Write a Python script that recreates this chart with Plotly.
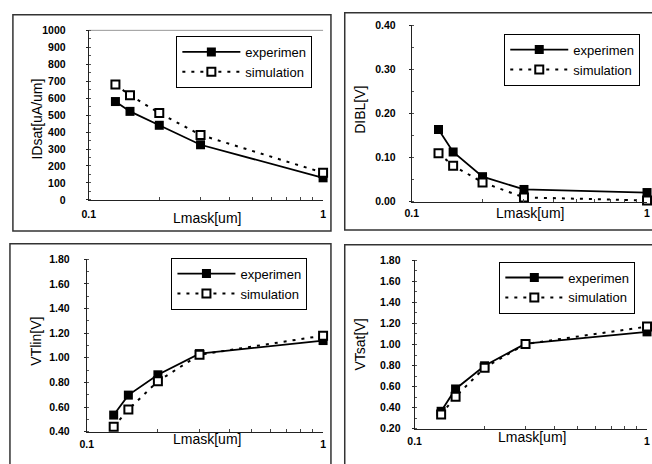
import plotly.graph_objects as go

W, H = 652, 464

lmask = [0.13, 0.15, 0.2, 0.3, 1.0]

idsat_exp = [580, 522, 440, 325, 130]
idsat_sim = [680, 617, 512, 383, 160]

dibl_exp = [0.164, 0.113, 0.057, 0.028, 0.021]
dibl_sim = [0.110, 0.082, 0.044, 0.010, 0.003]

vtlin_exp = [0.535, 0.697, 0.862, 1.034, 1.14]
vtlin_sim = [0.44, 0.58, 0.81, 1.025, 1.18]

vtsat_exp = [0.366, 0.578, 0.798, 1.008, 1.12]
vtsat_sim = [0.336, 0.505, 0.78, 1.005, 1.17]

y_titles = ["IDsat[uA/um]", "DIBL[V]", "VTlin[V]", "VTsat[V]"]
x_title = "Lmask[um]"
names = ["experimen", "simulation"]
x_tickvals = [0.1, 1]
x_ticktext = ["0.1", "1"]
x_minor = [0.2, 0.3, 0.4, 0.5, 0.6, 0.7, 0.8, 0.9]

FONT = "Liberation Sans, Arial, sans-serif"

def px(x):
    return x / W

def py(y):
    return 1 - y / H

panels = [
    dict(exp=idsat_exp, sim=idsat_sim, yr=[0, 1000], dt=100, fmt="d", mn=50,
         box=(83, 321, 25, 199), leg=(172, 57.5), yt=(30, 116), xt=(203, 218),
         frame=(6, 329, 9, 231), ystand=18, xstand=5),
    dict(exp=dibl_exp, sim=dibl_sim, yr=[0, 0.40], dt=0.10, fmt=".2f", mn=0.05,
         box=(411, 650, 20, 201), leg=(505, 55), yt=(359, 106), xt=(531, 213),
         frame=(343, 670, 7, 230), ystand=11, xstand=2),
    dict(exp=vtlin_exp, sim=vtlin_sim, yr=[0.40, 1.80], dt=0.20, fmt=".2f", mn=0.1,
         box=(81, 321, 260, 437), leg=(167, 285), yt=(30, 344), xt=(203, 445),
         frame=(3, 329, 244, 480), ystand=12, xstand=3),
    dict(exp=vtsat_exp, sim=vtsat_sim, yr=[0.20, 1.80], dt=0.20, fmt=".2f", mn=0.1,
         box=(414, 650, 261, 434), leg=(500, 289), yt=(359, 347), xt=(533, 442),
         frame=(343, 670, 245, 480), ystand=9, xstand=3),
]

fig = go.Figure()
layout = dict(
    width=W, height=H, margin=dict(l=0, r=0, t=0, b=0),
    paper_bgcolor="white", plot_bgcolor="white",
    font=dict(family=FONT, color="black"),
    shapes=[], annotations=[],
)

for i, p in enumerate(panels, start=1):
    sfx = "" if i == 1 else str(i)
    xa, ya = "x" + sfx, "y" + sfx
    leg = "legend" + sfx
    fig.add_trace(go.Scatter(
        x=lmask, y=p["exp"], name=names[0], xaxis=xa, yaxis=ya, legend=leg,
        mode="lines+markers",
        line=dict(color="black", width=1.8),
        marker=dict(symbol="square", size=9, color="black"),
        cliponaxis=False,
    ))
    fig.add_trace(go.Scatter(
        x=lmask, y=p["sim"], name=names[1], xaxis=xa, yaxis=ya, legend=leg,
        mode="lines+markers",
        line=dict(color="black", width=2, dash="3px,6px"),
        marker=dict(symbol="square", size=8, color="white",
                    line=dict(color="black", width=2)),
        cliponaxis=False,
    ))
    x0, x1, y0, y1 = p["box"]
    layout["xaxis" + sfx] = dict(
        type="log", range=[-1, 0], domain=[px(x0), px(x1)], anchor=ya,
        tickmode="array", tickvals=x_tickvals, ticktext=x_ticktext,
        showline=True, linecolor="#222", linewidth=1, showgrid=False, zeroline=False,
        ticks="inside", ticklen=3, tickcolor="#222",
        minor=dict(tickmode="array", tickvals=x_minor, ticks="inside", ticklen=3,
                   tickcolor="#444", showgrid=False),
        tickfont=dict(size=10.5, family=FONT, weight="bold"),
        ticklabelstandoff=p["xstand"],
    )
    layout["yaxis" + sfx] = dict(
        range=p["yr"], domain=[py(y1), py(y0)], anchor=xa,
        dtick=p["dt"], tick0=0, tickformat=p["fmt"],
        showline=True, linecolor="#222", linewidth=1, showgrid=False, zeroline=False,
        ticks="outside", ticklen=2, tickcolor="#222",
        minor=dict(dtick=p["mn"], ticks="inside", ticklen=2, tickcolor="#555",
                   showgrid=False),
        tickfont=dict(size=10.5, family=FONT, weight="bold"),
        ticklabelstandoff=p["ystand"],
    )
    lx, ly = p["leg"]
    layout[leg] = dict(
        x=px(lx), y=py(ly), xanchor="left", yanchor="middle",
        bgcolor="white", bordercolor="black", borderwidth=1,
        font=dict(size=13, family=FONT), itemwidth=58,
        tracegroupgap=0,
    )
    tx, ty = p["yt"]
    layout["annotations"].append(dict(
        text=y_titles[i - 1], x=px(tx), y=py(ty), xref="paper", yref="paper",
        showarrow=False, textangle=-90, font=dict(size=14, family=FONT),
        xanchor="center", yanchor="middle",
    ))
    tx, ty = p["xt"]
    layout["annotations"].append(dict(
        text=x_title, x=px(tx), y=py(ty), xref="paper", yref="paper",
        showarrow=False, font=dict(size=14, family=FONT),
        xanchor="center", yanchor="middle",
    ))
    fx0, fx1, fy0, fy1 = p["frame"]
    layout["shapes"].append(dict(
        type="rect", xref="paper", yref="paper",
        x0=px(fx0), x1=px(fx1), y0=py(fy1), y1=py(fy0),
        line=dict(color="#333", width=1.5), layer="below",
    ))

layout["shapes"].append(dict(
    type="line", xref="paper", yref="paper",
    x0=px(83), x1=px(321), y0=py(25), y1=py(25),
    line=dict(color="#999", width=1), layer="below",
))

fig.update_layout(**layout)
fig.write_html(
    "out.html",
    config={"displayModeBar": False},
    post_script="document.body.style.margin='0px';document.body.style.overflow='hidden';",
)
